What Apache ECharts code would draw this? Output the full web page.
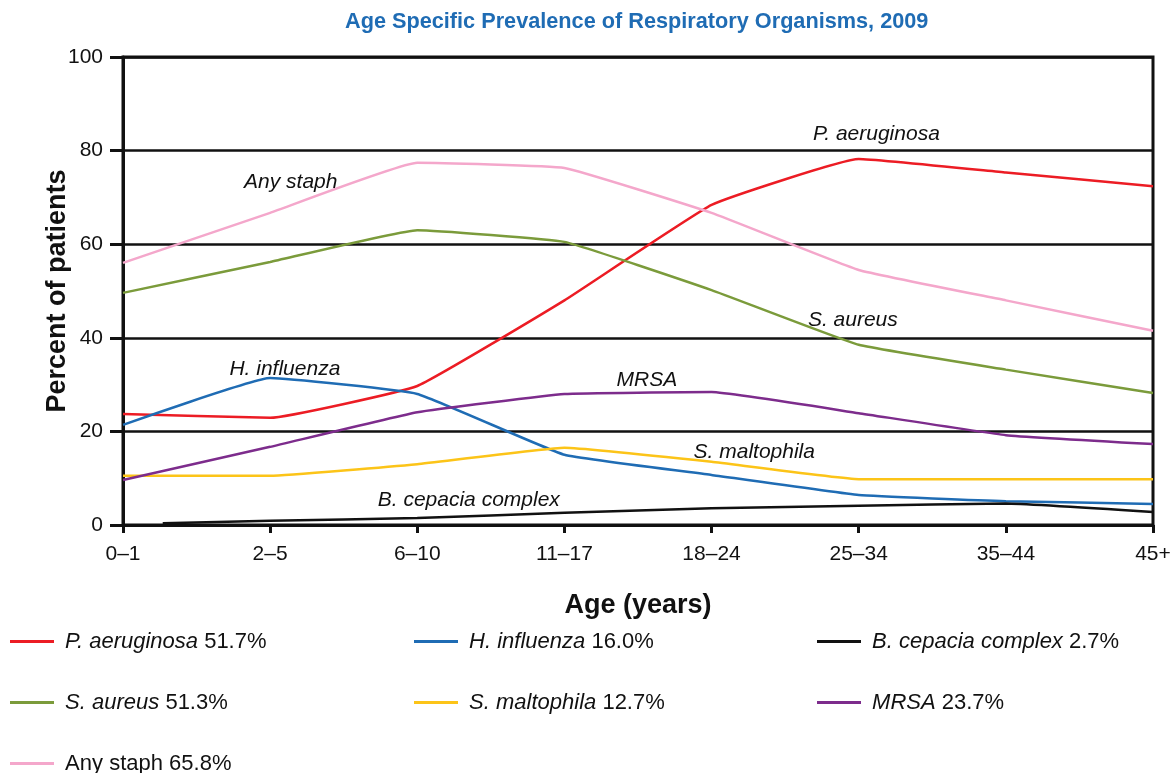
<!DOCTYPE html>
<html>
<head>
<meta charset="utf-8">
<script src="https://cdn.jsdelivr.net/npm/echarts@6/dist/echarts.min.js"></script>
<style>
  html, body { margin: 0; padding: 0; background: #fff; }
  #main { width: 1175px; height: 773px; }
</style>
</head>
<body>
<div id="main"></div>
<script>
var ageGroups = ['0–1', '2–5', '6–10', '11–17', '18–24', '25–34', '35–44', '45+'];

// percent of patients per age group
var pAeruginosa = [23.7, 22.9, 29.7, 48.0, 68.4, 78.2, 75.3, 72.4];
var sAureus     = [49.6, 56.2, 63.0, 60.5, 50.2, 38.5, 33.2, 28.2];
var anyStaph    = [56.0, 66.7, 77.4, 76.3, 66.7, 54.5, 48.0, 41.5];
var hInfluenza  = [21.4, 31.4, 28.0, 15.0, 10.7, 6.4, 5.1, 4.5];
var sMaltophila = [10.5, 10.5, 13.0, 16.5, 13.5, 9.8, 9.8, 9.8];
var mrsa        = [9.6, 16.7, 24.1, 28.0, 28.4, 23.9, 19.2, 17.3];
// B. cepacia starts a bit after the first age group
var bCepacia    = [[0.27, 0.4], [1, 0.9], [2, 1.5], [3, 2.6], [4, 3.6], [5, 4.1], [6, 4.6], [7, 2.8]];

var legendText = {
    'P. aeruginosa': ' {i|P. aeruginosa} 51.7%',
    'S. aureus': ' {i|S. aureus} 51.3%',
    'Any staph': ' Any staph 65.8%',
    'H. influenza': ' {i|H. influenza} 16.0%',
    'S. maltophila': ' {i|S. maltophila} 12.7%',
    'B. cepacia complex': ' {i|B. cepacia complex} 2.7%',
    'MRSA': ' {i|MRSA} 23.7%'
};

function toPairs(arr) {
    return arr.map(function (v, i) { return [i, v]; });
}

function line(name, color, data, tagPos) {
    return {
        name: name,
        type: 'line',
        data: data,
        smooth: 0.1,
        showSymbol: false,
        symbol: 'none',
        lineStyle: { color: color, width: 2.5 },
        itemStyle: { color: color },
        markPoint: {
            silent: true,
            symbol: 'circle',
            symbolSize: 2,
            itemStyle: { color: 'rgba(0,0,0,0)' },
            label: {
                show: true,
                position: 'inside',
                formatter: name,
                color: '#111',
                fontStyle: 'italic',
                fontSize: 21,
                fontFamily: 'Liberation Sans'
            },
            data: [{ coord: tagPos }]
        }
    };
}

var legendBase = {
    orient: 'vertical',
    icon: 'rect',
    padding: 0,
    height: 160,
    itemWidth: 44,
    itemHeight: 3,
    itemGap: 38,
    textStyle: {
        fontSize: 22,
        lineHeight: 23,
        color: '#111',
        fontFamily: 'Liberation Sans',
        rich: { i: { fontStyle: 'italic', fontSize: 22, lineHeight: 23, fontFamily: 'Liberation Sans' } }
    },
    formatter: function (n) { return legendText[n]; }
};

var myChart = echarts.init(document.getElementById('main'));

option = {
    animation: false,
    textStyle: { fontFamily: 'Liberation Sans' },
    title: {
        text: 'Age Specific Prevalence of Respiratory Organisms, 2009',
        left: 345,
        top: 11,
        padding: 0,
        textStyle: { color: '#1f6cb4', fontSize: 21.7, fontWeight: 'bold', fontFamily: 'Liberation Sans' }
    },
    legend: [
        Object.assign({}, legendBase, { left: 10, top: 630, data: ['P. aeruginosa', 'S. aureus', 'Any staph'] }),
        Object.assign({}, legendBase, { left: 414, top: 630, data: ['H. influenza', 'S. maltophila'] }),
        Object.assign({}, legendBase, { left: 817, top: 630, data: ['B. cepacia complex', 'MRSA'] })
    ],
    grid: {
        left: 123, right: 22, top: 57, bottom: 248,
        show: true,
        borderColor: '#111',
        borderWidth: 3
    },
    xAxis: {
        type: 'value',
        min: 0, max: 7, interval: 1,
        name: 'Age (years)',
        nameLocation: 'middle',
        nameGap: 67,
        nameMoveOverlap: false,
        nameTextStyle: { fontSize: 27, fontWeight: 'bold', color: '#111' },
        axisLine: { lineStyle: { color: '#111', width: 3 } },
        axisTick: { length: 8, lineStyle: { color: '#111', width: 3 } },
        axisLabel: {
            fontSize: 21, color: '#111', margin: 19,
            formatter: function (v) { return ageGroups[v]; }
        },
        splitLine: { show: false }
    },
    yAxis: {
        type: 'value',
        min: 0, max: 100, interval: 20,
        name: 'Percent of patients',
        nameLocation: 'middle',
        nameGap: 52,
        nameMoveOverlap: false,
        nameRotate: 90,
        nameTextStyle: { fontSize: 27, fontWeight: 'bold', color: '#111' },
        axisLine: { show: true, lineStyle: { color: '#111', width: 3 } },
        axisTick: { show: true, length: 13, lineStyle: { color: '#111', width: 3 } },
        axisLabel: { fontSize: 21, color: '#111', margin: 20 },
        splitLine: { lineStyle: { color: '#111', width: 2.5 } }
    },
    series: [
        line('P. aeruginosa', '#ec1c24', toPairs(pAeruginosa), [5.12, 83.5]),
        line('S. aureus', '#7b9b3b', toPairs(sAureus), [4.96, 43.8]),
        line('Any staph', '#f4a7cb', toPairs(anyStaph), [1.14, 73.3]),
        line('H. influenza', '#1f6cb4', toPairs(hInfluenza), [1.10, 33.3]),
        line('S. maltophila', '#fcc418', toPairs(sMaltophila), [4.29, 15.6]),
        line('B. cepacia complex', '#111111', bCepacia, [2.35, 5.3]),
        line('MRSA', '#7d2c8c', toPairs(mrsa), [3.56, 31.0])
    ]
};

myChart.setOption(option);
</script>
</body>
</html>
